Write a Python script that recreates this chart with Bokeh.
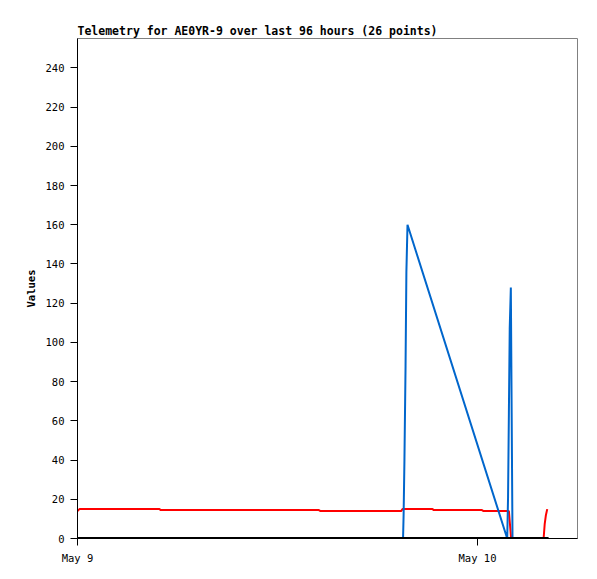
import pandas as pd
from bokeh.plotting import figure
from bokeh.models import Range1d, FixedTicker, DatetimeTickFormatter
from bokeh.embed import file_html
from bokeh.resources import INLINE

title_text = "Telemetry for AE0YR-9 over last 96 hours (26 points)"
y_label = "Values"

x_start = "2024-05-09 00:00"
x_end = "2024-05-10 06:00"
x_tick_dates = ["2024-05-09", "2024-05-10"]
x_tick_labels = ["May 9", "May 10"]
y_ticks = [0, 20, 40, 60, 80, 100, 120, 140, 160, 180, 200, 220, 240]
y_max = 255

red_times = ["2024-05-09 00:00", "2024-05-09 00:07", "2024-05-09 04:55", "2024-05-09 05:00",
             "2024-05-09 14:29", "2024-05-09 14:35", "2024-05-09 19:25", "2024-05-09 19:30",
             "2024-05-09 21:18", "2024-05-09 21:23", "2024-05-10 00:16", "2024-05-10 00:22",
             "2024-05-10 01:53", "2024-05-10 01:57", "2024-05-10 02:01", "2024-05-10 03:58",
             "2024-05-10 04:02", "2024-05-10 04:06", "2024-05-10 04:11"]
red_values = [14, 15, 15, 14.5, 14.5, 14, 14, 15, 15, 14.5, 14.5, 14, 14, 7, 0, 0, 7.5, 11.7, 15]

blue_times = ["2024-05-09 00:00", "2024-05-09 19:32", "2024-05-09 19:34", "2024-05-09 19:37",
              "2024-05-09 19:41", "2024-05-09 19:44", "2024-05-09 19:48", "2024-05-10 01:47",
              "2024-05-10 01:50", "2024-05-10 01:53", "2024-05-10 01:56", "2024-05-10 02:00",
              "2024-05-10 02:03", "2024-05-10 02:06", "2024-05-10 04:14"]
blue_values = [0, 0, 12, 40, 88, 136, 160, 0, 21, 64, 107, 128, 64, 0, 0]

black_times = ["2024-05-09 00:00", "2024-05-10 04:16"]
black_values = [0, 0]

FONT = "DejaVu Sans Mono"

p = figure(width=587, height=571, x_axis_type="datetime", output_backend="svg",
           toolbar_location=None, min_border_left=77, min_border_top=38,
           min_border_right=10, min_border_bottom=33,
           x_range=Range1d(pd.Timestamp(x_start), pd.Timestamp(x_end)),
           y_range=Range1d(0, y_max))

p.title.text = title_text
p.title.text_font = FONT
p.title.text_font_size = "11.5px"
p.title.text_font_style = "bold"
p.title.text_color = "black"
p.title.align = "left"
p.title.standoff = 1

p.line(pd.to_datetime(red_times), red_values, line_color="#FF0000", line_width=2)
p.line(pd.to_datetime(blue_times), blue_values, line_color="#0066CC", line_width=2)
p.line(pd.to_datetime(black_times), black_values, line_color="#000000", line_width=3)

p.grid.visible = False
p.outline_line_color = "#808080"
p.background_fill_color = "white"
p.border_fill_color = "white"

tick_ms = [pd.Timestamp(d).value / 1e6 for d in x_tick_dates]
p.xaxis.ticker = FixedTicker(ticks=tick_ms)
p.xaxis.formatter = DatetimeTickFormatter(days="%b %-d")
p.xaxis.major_label_overrides = {t: lab for t, lab in zip(tick_ms, x_tick_labels)}
p.yaxis.ticker = FixedTicker(ticks=y_ticks)
p.yaxis.axis_label = y_label

for ax in (p.xaxis, p.yaxis):
    ax.major_label_text_font = FONT
    ax.major_label_text_font_size = "10.5px"
    ax.major_label_text_color = "black"
    ax.major_tick_out = 7
    ax.major_tick_in = 0
    ax.minor_tick_line_color = None
    ax.axis_line_color = "black"
    ax.major_tick_line_color = "black"
    ax.major_label_standoff = 6
    ax.axis_label_text_font = FONT
    ax.axis_label_text_font_size = "10.5px"
    ax.axis_label_text_font_style = "bold"
    ax.axis_label_text_color = "black"
    ax.axis_label_standoff = 6

open("out.html", "w").write(file_html(p, INLINE))
